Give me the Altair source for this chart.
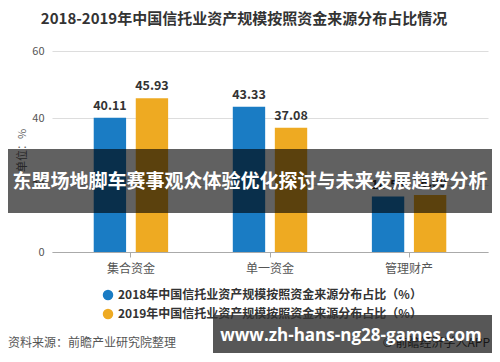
import altair as alt
import pandas as pd

categories = ["集合资金", "单一资金", "管理财产"]
series = ["2018年中国信托业资产规模按照资金来源分布占比（%）",
          "2019年中国信托业资产规模按照资金来源分布占比（%）"]
values_2018 = [40.11, 43.33, 16.56]
values_2019 = [45.93, 37.08, 16.99]
colors = ["#1a7cc4", "#eeaa22"]

rows = []
for i, c in enumerate(categories):
    rows.append({"cat": c, "series": series[0], "v": values_2018[i], "lbl": f"{values_2018[i]:.2f}"})
    rows.append({"cat": c, "series": series[1], "v": values_2019[i], "lbl": f"{values_2019[i]:.2f}"})
df = pd.DataFrame(rows)

FONT = "Noto Sans CJK SC"
W, H = 436, 201

xscale = alt.Scale(paddingInner=0.465, paddingOuter=0.3)
yscale = alt.Scale(domain=[0, 60])
xaxis = alt.Axis(labelAngle=0, labelColor="#555", labelFontSize=12, labelFont=FONT,
                 domainColor="#aaa", tickColor="#aaa", tickSize=5, labelPadding=6,
                 grid=False, title=None)
yaxis = alt.Axis(values=[0, 20, 40, 60], title="单位：%", titleFont=FONT, titleFontSize=11,
                 titleColor="#666", titleFontWeight="normal", titleX=-30, titleY=99,
                 titleAngle=-90, titleAlign="center", titleBaseline="middle",
                 labelColor="#555", labelFontSize=11, labelPadding=8,
                 domain=False, ticks=False, gridColor="#dddddd")
xenc = alt.X("cat:N", sort=categories, title=None, scale=xscale, axis=xaxis)
yenc = alt.Y("v:Q", scale=yscale, axis=yaxis, title="单位：%")
xoff = alt.XOffset("series:N", sort=series, scale=alt.Scale(paddingInner=0.23, paddingOuter=0))

base = alt.Chart(df)

bars = base.mark_bar().encode(
    x=xenc,
    xOffset=xoff,
    y=yenc,
    color=alt.Color("series:N", sort=series, scale=alt.Scale(domain=series, range=colors),
                    legend=alt.Legend(title=None, orient="none", legendX=50, legendY=238,
                                      symbolType="circle", symbolSize=110, symbolStrokeWidth=0,
                                      labelFont=FONT, labelFontSize=12, labelFontWeight="bold",
                                      labelColor="#333", rowPadding=7, labelLimit=400)),
)

labels = base.mark_text(baseline="bottom", dy=-5, fontSize=12.5, fontWeight="bold",
                        color="#333", font=FONT).encode(
    x=xenc,
    xOffset=xoff,
    y=yenc,
    text="lbl:N",
)

title_df = pd.DataFrame({"t": ["2018-2019年中国信托业资产规模按照资金来源分布占比情况"]})
title = alt.Chart(title_df).mark_text(fontSize=15, fontWeight="bold", color="#333", font=FONT,
                                      align="center", baseline="middle").encode(
    x=alt.value(192), y=alt.value(-32), text="t:N")

src_df = pd.DataFrame({"t": ["资料来源：前瞻产业研究院整理"]})
src = alt.Chart(src_df).mark_text(fontSize=12, color="#555", font=FONT,
                                  align="left", baseline="middle").encode(
    x=alt.value(-44), y=alt.value(292), text="t:N")

app_df = pd.DataFrame({"t": ["© 前瞻经济学人APP"]})
app = alt.Chart(app_df).mark_text(fontSize=12, color="#444", font=FONT,
                                  align="right", baseline="middle").encode(
    x=alt.value(438), y=alt.value(292), text="t:N")

wm_box = alt.Chart(pd.DataFrame({"a": [1]})).mark_rect(color="#000", opacity=0.66).encode(
    x=alt.value(161), x2=alt.value(440), y=alt.value(264), y2=alt.value(302))
wm_df = pd.DataFrame({"t": ["www.zh-hans-ng28-games.com"]})
wm = alt.Chart(wm_df).mark_text(fontSize=17, fontWeight="bold", color="#fff", font="Open Sans",
                                align="center", baseline="middle").encode(
    x=alt.value(299), y=alt.value(285), text="t:N")

band = alt.Chart(pd.DataFrame({"a": [1]})).mark_rect(color="#000", opacity=0.62).encode(
    x=alt.value(-44), x2=alt.value(440), y=alt.value(98), y2=alt.value(162))
band_df = pd.DataFrame({"t": ["东盟场地脚车赛事观众体验优化探讨与未来发展趋势分析"]})
band_txt = alt.Chart(band_df).mark_text(fontSize=19, fontWeight="bold", color="#fff", font=FONT,
                                        align="center", baseline="middle").encode(
    x=alt.value(198), y=alt.value(131), text="t:N")

chart = alt.layer(bars, labels, title, src, app, wm_box, wm, band, band_txt).properties(
    width=W, height=H,
    autosize=alt.AutoSizeParams(type="none"),
    padding={"left": 44, "top": 43, "right": 4, "bottom": 102},
).configure(font=FONT, view=alt.ViewConfig(stroke=None))

chart.save("out.html", embed_options={"renderer": "svg", "actions": False})
